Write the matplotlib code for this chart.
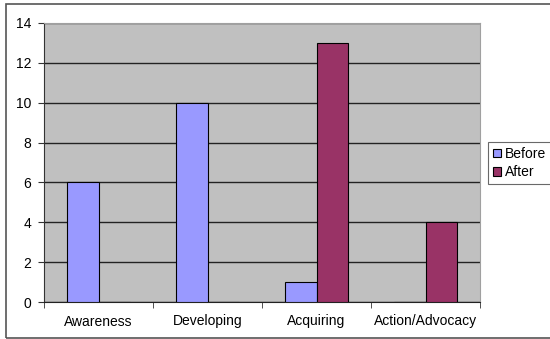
import numpy as np
import matplotlib.pyplot as plt
from matplotlib.patches import Rectangle

plt.rcParams['font.family'] = ['Liberation Sans', 'DejaVu Sans']

categories = ['Awareness', 'Developing', 'Acquiring', 'Action/Advocacy']
before = [6, 10, 1, 0]
after = [0, 0, 13, 4]

fig = plt.figure(figsize=(5.5, 3.39), dpi=100)
ax = fig.add_axes([44 / 550, 1 - 302 / 339, 436 / 550, 279 / 339])
ax.set_facecolor('#c0c0c0')

x = np.arange(len(categories))
w = 0.29
ax.bar(x - w / 2, before, w, color='#9999ff', edgecolor='black', linewidth=0.8,
       label='Before', zorder=3)
ax.bar(x + w / 2, after, w, color='#993366', edgecolor='black', linewidth=0.8,
       label='After', zorder=3)

ax.set_xlim(-0.5, len(categories) - 0.5)
ax.set_ylim(0, 14)
ax.set_yticks(range(0, 15, 2))
ax.yaxis.grid(True, color='#222222', linewidth=1.0, zorder=1)
ax.set_axisbelow(True)

# category labels in the middle, tick marks on the boundaries
ax.set_xticks(x)
ax.set_xticklabels(categories)
ax.set_xticks(np.arange(-0.5, len(categories), 1), minor=True)
ax.tick_params(axis='x', which='major', length=0, pad=9, labelsize=10)
ax.tick_params(axis='x', which='minor', length=4, direction='out', color='#333333')
ax.tick_params(axis='y', length=4, direction='out', labelsize=10, pad=5, color='#333333')

for side in ['top', 'right']:
    ax.spines[side].set_color('#a0a0a0')
    ax.spines[side].set_linewidth(0.8)
ax.spines['left'].set_color('#333333')
ax.spines['bottom'].set_color('#222222')

leg = fig.legend(loc='upper left', bbox_to_anchor=(488 / 550, 1 - 142 / 339),
                 fontsize=10, frameon=True, fancybox=False, handlelength=0.6,
                 handleheight=0.6, handletextpad=0.3, borderpad=0.35,
                 labelspacing=0.3, borderaxespad=0)
leg.get_frame().set_edgecolor('#444444')
leg.get_frame().set_linewidth(0.8)

# outer chart border
fig.patches.append(Rectangle((6 / 550, 1 / 339), 1.2, 334 / 339,
                             transform=fig.transFigure, fill=False,
                             edgecolor='#555555', linewidth=1.2, clip_on=False))

fig.savefig('out.png', dpi=100)
